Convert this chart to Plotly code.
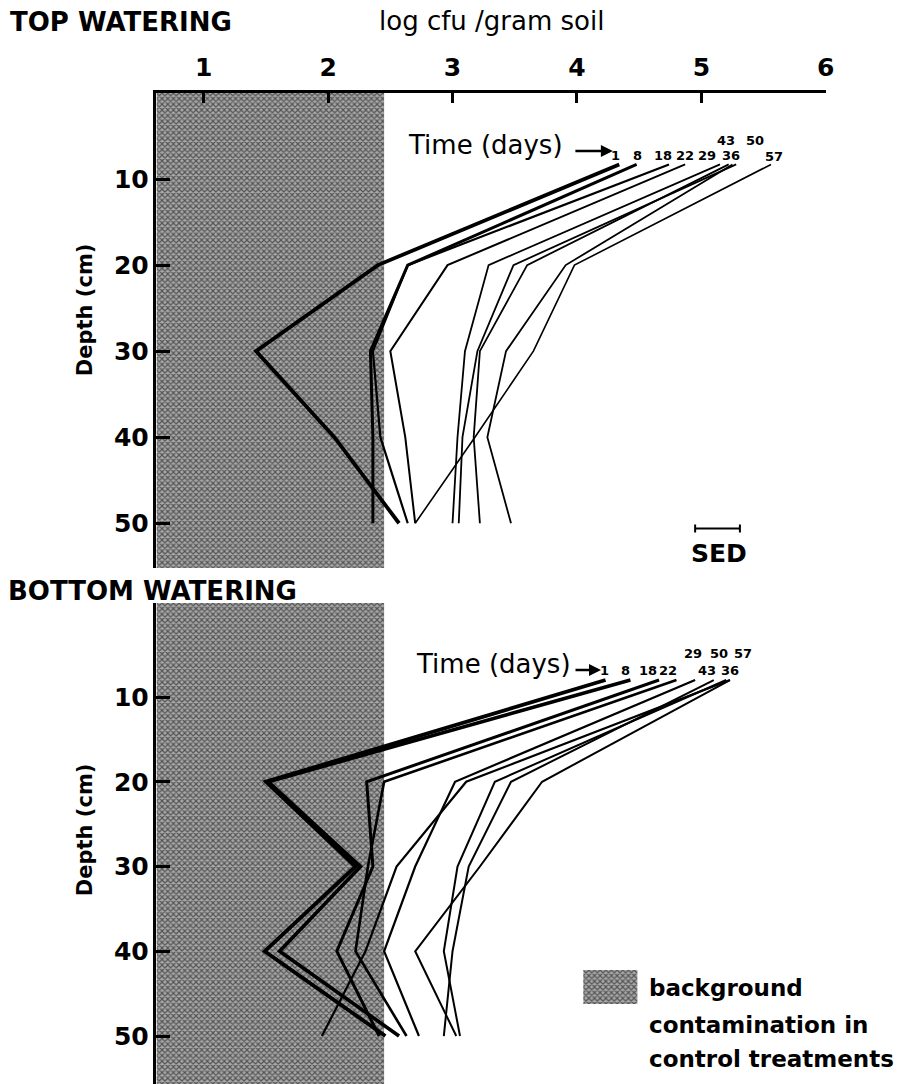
import plotly.graph_objects as go

W, H = 910, 1084


def fx(px):
    return px / W


def fy(py):
    return 1 - py / H


# ---------------- data ----------------
days = [1, 8, 18, 22, 29, 36, 43, 50, 57]
top_depths = [8.3, 20, 30, 40, 50]
bottom_depths = [8, 20, 30, 40, 50]

# log cfu / gram soil, one list per sampling day (top watering)
top_d1 = [4.34, 2.40, 1.42, 2.05, 2.57]
top_d8 = [4.48, 2.64, 2.34, 2.36, 2.36]
top_d18 = [4.74, 2.64, 2.36, 2.42, 2.64]
top_d22 = [4.87, 2.96, 2.50, 2.62, 2.70]
top_d29 = [5.15, 3.29, 3.10, 3.04, 3.00]
top_d36 = [5.28, 3.49, 3.20, 3.08, 3.05]
top_d43 = [5.22, 3.60, 3.22, 3.17, 3.22]
top_d50 = [5.25, 3.91, 3.43, 3.28, 3.47]
top_d57 = [5.56, 3.98, 3.65, 3.18, 2.70]

# log cfu / gram soil (bottom watering)
bot_d1 = [4.23, 1.50, 2.22, 1.49, 2.46]
bot_d8 = [4.43, 1.52, 2.26, 1.61, 2.57]
bot_d18 = [4.66, 2.31, 2.36, 2.07, 2.41]
bot_d22 = [4.80, 2.45, 2.32, 2.22, 2.63]
bot_d29 = [4.95, 3.02, 2.70, 2.45, 2.73]
bot_d36 = [5.23, 3.11, 2.55, 2.30, 1.95]
bot_d43 = [5.20, 3.34, 3.04, 2.93, 3.06]
bot_d50 = [5.10, 3.47, 3.13, 3.00, 2.93]
bot_d57 = [5.23, 3.72, 3.22, 2.70, 3.03]

top_series = [top_d1, top_d8, top_d18, top_d22, top_d29, top_d36, top_d43, top_d50, top_d57]
bot_series = [bot_d1, bot_d8, bot_d18, bot_d22, bot_d29, bot_d36, bot_d43, bot_d50, bot_d57]

x_ticks = [1, 2, 3, 4, 5, 6]
depth_ticks = [10, 20, 30, 40, 50]
background_limit = 2.45   # upper limit of background contamination (log cfu)
sed = 0.36                # standard error of difference

# ---------------- styles ----------------
top_widths = [3.8, 3.0, 2.2, 2.0, 1.8, 1.8, 1.8, 1.8, 1.6]
bot_widths = [3.8, 3.6, 3.0, 2.6, 2.2, 2.2, 2.0, 2.0, 2.0]

FONT = "DejaVu Sans"
XR = [0.62, 6.0]
TOP_YR = [55.2, 0.0]
BOT_YR = [55.66, -1.09]
PATTERN = dict(shape="x", size=4, solidity=0.5, fgcolor="#000000", bgcolor="#a8a8a8")

fig = go.Figure()


def shade(xref, yref, yr):
    fig.add_trace(go.Scatter(
        x=[XR[0], background_limit, background_limit, XR[0], XR[0]],
        y=[yr[0], yr[0], yr[1], yr[1], yr[0]],
        xaxis=xref, yaxis=yref, mode="lines", fill="toself",
        line=dict(width=0, color="rgba(0,0,0,0)"),
        fillcolor="#808080", fillpattern=PATTERN,
        hoverinfo="skip", showlegend=False))


shade("x", "y", TOP_YR)
shade("x2", "y2", BOT_YR)

for vals, w in zip(top_series, top_widths):
    fig.add_trace(go.Scatter(x=vals, y=top_depths, mode="lines", xaxis="x", yaxis="y",
                             line=dict(color="black", width=w), showlegend=False))
for vals, w in zip(bot_series, bot_widths):
    fig.add_trace(go.Scatter(x=vals, y=bottom_depths, mode="lines", xaxis="x2", yaxis="y2",
                             line=dict(color="black", width=w), showlegend=False))

# SED bar
fig.add_trace(go.Scatter(x=[5.13], y=[50.6], mode="markers", xaxis="x", yaxis="y",
                         marker=dict(size=1, color="black"),
                         error_x=dict(type="constant", value=sed / 2, color="black", thickness=2, width=4),
                         showlegend=False, hoverinfo="skip"))

# legend swatch (own small axes)
fig.add_trace(go.Scatter(x=[0, 1, 1, 0, 0], y=[0, 0, 1, 1, 0], xaxis="x3", yaxis="y3",
                         mode="lines", fill="toself", line=dict(width=0, color="rgba(0,0,0,0)"),
                         fillcolor="#808080", fillpattern=PATTERN,
                         showlegend=False, hoverinfo="skip"))

tickfont = dict(family=FONT, size=25, color="black", weight="bold")
fig.update_layout(
    width=W, height=H, margin=dict(l=0, r=0, t=0, b=0),
    paper_bgcolor="white", plot_bgcolor="rgba(0,0,0,0)",
    xaxis=dict(domain=[fx(158), fx(834)], range=XR, anchor="y", side="top",
               tickvals=x_ticks, ticks="inside", ticklen=10, tickwidth=2.5, tickcolor="black",
               showline=True, linecolor="black", linewidth=2.5, showgrid=False, zeroline=False,
               tickfont=tickfont, ticklabelstandoff=4),
    yaxis=dict(domain=[fy(568), fy(93)], range=TOP_YR, anchor="x",
               tickvals=depth_ticks, ticks="inside", ticklen=14, tickwidth=3, tickcolor="black",
               showline=True, linecolor="black", linewidth=2.5, showgrid=False, zeroline=False,
               tickfont=tickfont),
    xaxis2=dict(domain=[fx(158), fx(834)], range=XR, anchor="y2", visible=False),
    yaxis2=dict(domain=[fy(1084), fy(603)], range=BOT_YR, anchor="x2",
                tickvals=depth_ticks, ticks="inside", ticklen=14, tickwidth=3, tickcolor="black",
                showline=True, linecolor="black", linewidth=2.5, showgrid=False, zeroline=False,
                tickfont=tickfont),
    xaxis3=dict(domain=[fx(589), fx(644)], range=[0, 1], anchor="y3", visible=False),
    yaxis3=dict(domain=[fy(1004), fy(970)], range=[0, 1], anchor="x3", visible=False),
)


def text(s, px, py, size, bold=False, xanchor="center", angle=0):
    fig.add_annotation(text=s, x=fx(px), y=fy(py), xref="paper", yref="paper",
                       showarrow=False, xanchor=xanchor, yanchor="middle", textangle=angle,
                       font=dict(family=FONT, size=size, color="black",
                                 weight="bold" if bold else "normal"))


def arrow(px0, px1, py):
    fig.add_annotation(x=fx(px1), y=fy(py), xref="paper", yref="paper",
                       ax=-(px1 - px0), ay=0, axref="pixel", ayref="pixel", text="",
                       showarrow=True, arrowhead=2, arrowsize=1, arrowwidth=2.4,
                       arrowcolor="black")


text("TOP WATERING", 8, 22, 26, True, "left")
text("log cfu /gram soil", 496, 21, 26, False)
text("BOTTOM WATERING", 6, 591, 26, True, "left")
text("Depth (cm)", 86, 310, 21, True, angle=-90)
text("Depth (cm)", 86, 830, 21, True, angle=-90)
text("SED", 726, 553, 25, True)

# time labels, top panel
text("Time (days)", 410, 145, 26, False, "left")
arrow(580, 619, 151)
for lab, px, py in [("1", 622, 155), ("8", 644, 155), ("18", 670, 155), ("22", 692, 155),
                    ("29", 714, 155), ("36", 738, 155), ("43", 733, 140), ("50", 763, 140),
                    ("57", 782, 156)]:
    text(lab, px, py, 13, True)

# time labels, bottom panel
text("Time (days)", 418, 664, 26, False, "left")
arrow(580, 607, 670)
for lab, px, py in [("1", 611, 670), ("8", 632, 670), ("18", 654, 670), ("22", 675, 670),
                    ("43", 714, 670), ("36", 737, 670), ("29", 700, 653), ("50", 726, 653),
                    ("57", 750, 653)]:
    text(lab, px, py, 13, True)

# legend text
text("background", 653, 988, 23, True, "left")
text("contamination in", 653, 1025, 23, True, "left")
text("control treatments", 653, 1059, 23, True, "left")

fig.write_html("out.html")
